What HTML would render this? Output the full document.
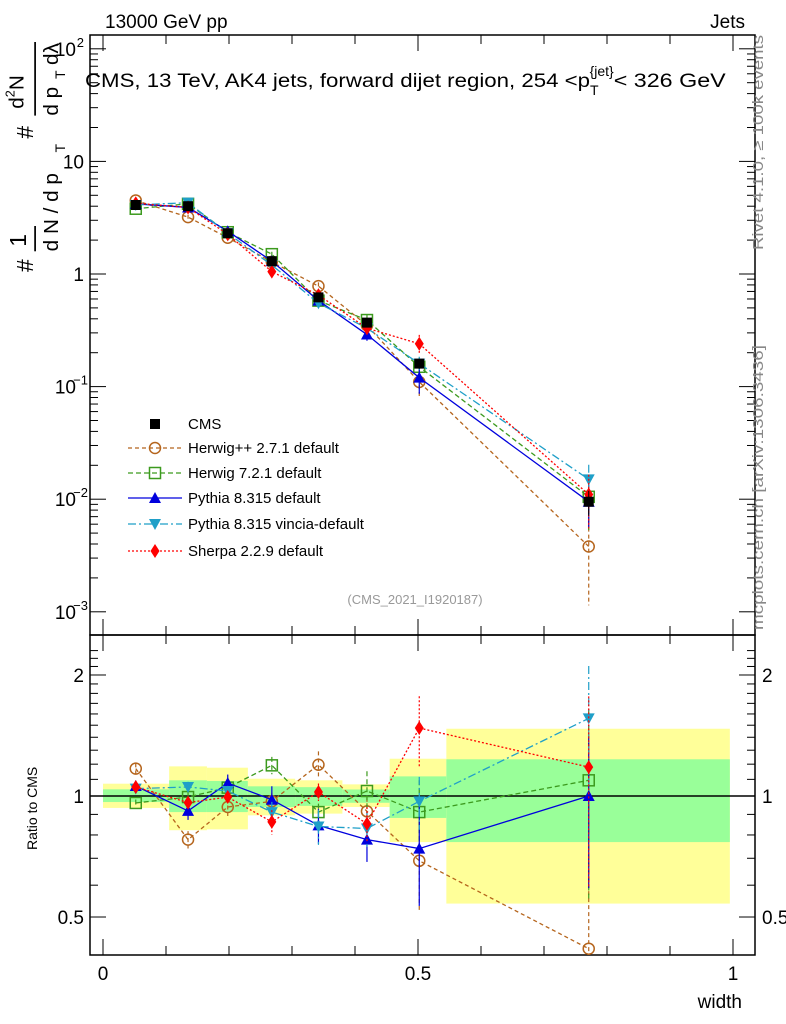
<!DOCTYPE html>
<html><head><meta charset="utf-8"><style>
body{margin:0;background:#fff}
svg{display:block;font-family:"Liberation Sans",sans-serif}
</style></head><body>
<svg id="c" width="786" height="1024" xmlns="http://www.w3.org/2000/svg">
<text x="105" y="28" font-size="19">13000 GeV pp</text>
<text x="745" y="28" font-size="19" text-anchor="end">Jets</text>
<g id="bands"></g>
<g id="axes"></g>
<text x="85" y="87" font-size="19"><tspan textLength="505" lengthAdjust="spacingAndGlyphs">CMS, 13 TeV, AK4 jets, forward dijet region, 254 &lt;p</tspan><tspan font-size="14" dy="8">T</tspan><tspan font-size="14" dy="-19" dx="-9">{jet}</tspan><tspan dy="11" textLength="112" lengthAdjust="spacingAndGlyphs">&lt; 326 GeV</tspan></text>
<text x="415" y="604" font-size="13" fill="#999" text-anchor="middle">(CMS_2021_I1920187)</text>
<text transform="translate(763,250) rotate(-90)" font-size="15" fill="#888" textLength="215" lengthAdjust="spacingAndGlyphs">Rivet 4.1.0, ≥ 100k events</text>
<text transform="translate(763,630) rotate(-90)" font-size="15" fill="#888" textLength="285" lengthAdjust="spacingAndGlyphs">mcplots.cern.ch [arXiv:1306.3436]</text>
<g transform="translate(42,272) rotate(-90) scale(1.15)">
<text x="0" y="-8" font-size="20">#</text><text x="22" y="-14" font-size="20">1</text>
<line x1="18" y1="-6" x2="40" y2="-6" stroke="#000" stroke-width="1.5"/>
<text x="18" y="14" font-size="18">d N / d p</text><text x="104" y="20" font-size="12">T</text>
<text x="116" y="-8" font-size="20">#</text>
<text x="142" y="-16" font-size="18">d<tspan font-size="11" dy="-8">2</tspan><tspan dy="8">N</tspan></text>
<line x1="136" y1="-6" x2="200" y2="-6" stroke="#000" stroke-width="1.5"/>
<text x="136" y="14" font-size="18">d p</text><text x="168" y="20" font-size="12">T</text><text x="180" y="14" font-size="18">dλ</text>
</g>
<text transform="translate(37,850) rotate(-90)" font-size="14">Ratio to CMS</text>
<text x="742" y="1008" font-size="19" text-anchor="end">width</text>
<g id="series"></g>
<g id="legend"></g>
</svg>
<script>
const xs=[0.052,0.135,0.198,0.268,0.342,0.419,0.502,0.771];
const binEdges=[0,0.105,0.165,0.23,0.305,0.38,0.455,0.545,0.995];
const yellowHi=[1.073,1.185,1.176,1.104,1.094,1.069,1.238,1.47];
const yellowLo=[0.934,0.822,0.826,0.895,0.904,0.939,0.768,0.54];
const greenHi=[1.039,1.094,1.09,1.057,1.052,1.038,1.119,1.234];
const greenLo=[0.966,0.912,0.912,0.939,0.945,0.962,0.882,0.768];
const cmsVals=[4.1,4.0,2.3,1.3,0.62,0.37,0.16,0.0095];
const cmsErr=[0.02,0.02,0.02,0.03,0.03,0.04,0.1,0.25];
const hppVals=[4.5,3.2,2.1,1.28,0.78,0.35,0.11,0.0038];
const hppRatio=[1.17,0.779,0.939,0.97,1.196,0.916,0.69,0.417];
const hppErr=[0.03,0.05,0.05,0.05,0.08,0.08,0.25,0.7];
const h7Vals=[3.8,4.2,2.35,1.5,0.58,0.39,0.15,0.0105];
const h7Ratio=[0.961,0.994,1.049,1.192,0.912,1.029,0.912,1.094];
const h7Err=[0.02,0.03,0.04,0.05,0.05,0.12,0.2,0.5];
const pyVals=[4.2,3.9,2.4,1.3,0.58,0.29,0.12,0.0095];
const pyRatio=[1.059,0.918,1.077,0.979,0.845,0.779,0.74,1.0];
const pyErr=[0.03,0.05,0.05,0.08,0.1,0.12,0.28,0.41];
const vinVals=[4.1,4.3,2.3,1.2,0.55,0.33,0.16,0.015];
const vinRatio=[1.043,1.053,1.029,0.912,0.84,0.83,0.97,1.56];
const vinErr=[0.02,0.03,0.03,0.06,0.1,0.1,0.15,0.35];
const shVals=[4.25,3.9,2.25,1.05,0.65,0.33,0.24,0.011];
const shRatio=[1.053,0.963,0.994,0.862,1.023,0.853,1.476,1.18];
const shErr=[0.02,0.03,0.03,0.07,0.05,0.1,0.2,0.5];
const seriesNames=["Herwig++ 2.7.1 default","Herwig 7.2.1 default","Pythia 8.315 default","Pythia 8.315 vincia-default","Sherpa 2.2.9 default"];
const NS="http://www.w3.org/2000/svg";
const X=v=>103+630*v, Ym=v=>274-112.6*Math.log10(v), Yr=v=>796-402*Math.log10(v);
function mk(tag,at,par){const e=document.createElementNS(NS,tag);for(const k in at)e.setAttribute(k,at[k]);par.appendChild(e);return e;}
const bands=document.getElementById('bands'),axes=document.getElementById('axes'),ser=document.getElementById('series'),leg=document.getElementById('legend');
for(let i=0;i<8;i++){
 let r=mk('rect',{x:X(binEdges[i]),y:Yr(yellowHi[i]),width:X(binEdges[i+1])-X(binEdges[i]),height:Yr(yellowLo[i])-Yr(yellowHi[i]),fill:'#ffff99'},bands);
 
 let g=mk('rect',{x:X(binEdges[i]),y:Yr(greenHi[i]),width:X(binEdges[i+1])-X(binEdges[i]),height:Yr(greenLo[i])-Yr(greenHi[i]),fill:'#99ff99'},bands);
 
}
mk('rect',{x:90,y:35,width:665,height:600,fill:'none',stroke:'#000','stroke-width':1.5},axes);
mk('rect',{x:90,y:635,width:665,height:320,fill:'none',stroke:'#000','stroke-width':1.5},axes);
mk('line',{x1:90,x2:755,y1:Yr(1),y2:Yr(1),stroke:'#000','stroke-width':1.5},axes);
for(let d=-3;d<=2;d++){for(let m=1;m<10;m++){const v=m*Math.pow(10,d);const y=Ym(v);if(y<36||y>634)continue;const L=m==1?16:8;
 mk('line',{x1:90,x2:90+L,y1:y,y2:y,stroke:'#000'},axes);mk('line',{x1:755,x2:755-L,y1:y,y2:y,stroke:'#000'},axes);}}
const mlab=[[2,"10","2"],[1,"10",""],[0,"1",""],[-1,"10","−1"],[-2,"10","−2"],[-3,"10","−3"]];
mlab.forEach(([d,b,e])=>{const t=mk('text',{x:e?76:84,y:Ym(Math.pow(10,d))+7,'font-size':19,'text-anchor':'end'},axes);t.textContent=b;
 
 if(e){const s=mk('text',{x:e.length>1?88:84,y:Ym(Math.pow(10,d))-2,'font-size':13,'text-anchor':'end'},axes);s.textContent=e;}});
[0.4,0.5,0.6,0.7,0.8,0.9,1,1.1,1.2,1.3,1.4,1.5,1.6,1.7,1.8,1.9,2,2.1,2.2,2.3].forEach(v=>{const y=Yr(v);if(y<636||y>954)return;const L=(v==0.5||v==1||v==2)?16:8;
 mk('line',{x1:90,x2:90+L,y1:y,y2:y,stroke:'#000'},axes);mk('line',{x1:755,x2:755-L,y1:y,y2:y,stroke:'#000'},axes);});
[[2,"2"],[1,"1"],[0.5,"0.5"]].forEach(([v,s])=>{const a=mk('text',{x:84,y:Yr(v)+7,'font-size':19,'text-anchor':'end'},axes);a.textContent=s;
 
 const b=mk('text',{x:762,y:Yr(v)+7,'font-size':19},axes);b.textContent=s;});
for(let i=0;i<=10;i++){const x=X(i/10);const L=(i%5==0)?16:9;
 mk('line',{x1:x,x2:x,y1:955,y2:955-L,stroke:'#000'},axes);mk('line',{x1:x,x2:x,y1:635,y2:635+L,stroke:'#000'},axes);
 mk('line',{x1:x,x2:x,y1:635,y2:635-L,stroke:'#000'},axes);mk('line',{x1:x,x2:x,y1:35,y2:35+L,stroke:'#000'},axes);}
[[0,"0"],[0.5,"0.5"],[1,"1"]].forEach(([v,s])=>{const t=mk('text',{x:X(v),y:980,'font-size':19,'text-anchor':'middle'},axes);t.textContent=s;
 });
function marker(type,x,y,col,par){
 if(type=='sq')return mk('rect',{x:x-5,y:y-5,width:10,height:10,fill:'#000'},par);
 if(type=='osq')return mk('rect',{x:x-5.5,y:y-5.5,width:11,height:11,fill:'none',stroke:col,'stroke-width':1.5},par);
 if(type=='oc')return mk('circle',{cx:x,cy:y,r:5.5,fill:'none',stroke:col,'stroke-width':1.5},par);
 if(type=='tu')return mk('polygon',{points:`${x},${y-6} ${x-6},${y+5} ${x+6},${y+5}`,fill:col},par);
 if(type=='td')return mk('polygon',{points:`${x},${y+6} ${x-6},${y-5} ${x+6},${y-5}`,fill:col},par);
 if(type=='di')return mk('polygon',{points:`${x},${y-7} ${x-4.5},${y} ${x},${y+7} ${x+4.5},${y}`,fill:col},par);
}
const models=[
 [hppVals,hppRatio,hppErr,'#b5651d','4,3','oc','herwigpp'],
 [h7Vals,h7Ratio,h7Err,'#3c9a1e','5,3','osq','herwig7'],
 [pyVals,pyRatio,pyErr,'#0000dd','','tu','pythia'],
 [vinVals,vinRatio,vinErr,'#1f9fc8','8,3,2,3','td','vincia'],
 [shVals,shRatio,shErr,'#ff0000','2,2','di','sherpa']];
const clipR=v=>Math.max(636,Math.min(954,v));
models.forEach(([vals,rat,err,col,dash,mt,nm])=>{
 const g=mk('g',{},ser);
 mk('polyline',{points:xs.map((x,i)=>X(x)+','+Ym(vals[i])).join(' '),fill:'none',stroke:col,'stroke-width':1.3,'stroke-dasharray':dash},g);
 mk('polyline',{points:xs.map((x,i)=>X(x)+','+Yr(rat[i])).join(' '),fill:'none',stroke:col,'stroke-width':1.3,'stroke-dasharray':dash},g);
 xs.forEach((x,i)=>{const px=X(x),lo=Math.max(1-err[i],0.01);
  mk('line',{x1:px,x2:px,y1:Ym(vals[i]*(1+err[i])),y2:Math.min(634,Ym(vals[i]*lo)),stroke:col,'stroke-width':1.2,'stroke-dasharray':dash},g);
  mk('line',{x1:px,x2:px,y1:clipR(Yr(rat[i]*(1+err[i]))),y2:clipR(Yr(rat[i]*lo)),stroke:col,'stroke-width':1.2,'stroke-dasharray':dash},g);
  marker(mt,px,Ym(vals[i]),col,g);marker(mt,px,Yr(rat[i]),col,g);});
});
const cg=mk('g',{},ser);
xs.forEach((x,i)=>{const px=X(x);mk('line',{x1:px,x2:px,y1:Ym(cmsVals[i]*(1+cmsErr[i])),y2:Ym(cmsVals[i]*(1-cmsErr[i])),stroke:'#000'},cg);marker('sq',px,Ym(cmsVals[i]),'#000',cg);});
const ly=[424,448,473,498,524,551];
let e0=mk('g',{},leg);
marker('sq',155,ly[0],'#000',e0);let t0=mk('text',{x:188,y:ly[0]+5,'font-size':15},e0);t0.textContent='CMS';
models.forEach(([v,r,e,col,dash,mt],k)=>{const g=mk('g',{},leg);
 const y=ly[k+1];mk('line',{x1:128,x2:182,y1:y,y2:y,stroke:col,'stroke-width':1.3,'stroke-dasharray':dash},g);marker(mt,155,y,col,g);
 const t=mk('text',{x:188,y:y+5,'font-size':15},g);t.textContent=seriesNames[k];});
</script>
</body></html>
